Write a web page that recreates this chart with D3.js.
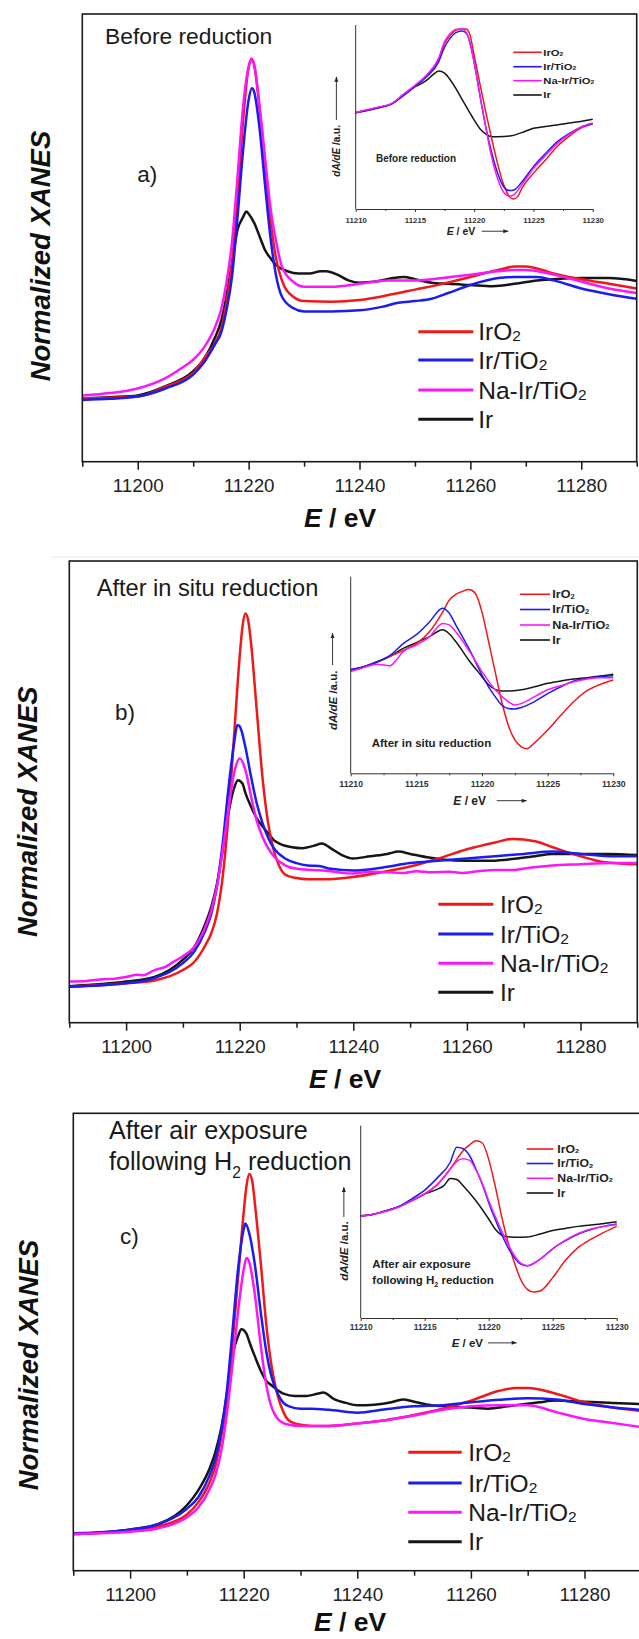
<!DOCTYPE html>
<html>
<head>
<meta charset="utf-8">
<script src="https://cdn.jsdelivr.net/npm/d3@7"></script>
<style>
  html, body { margin: 0; padding: 0; background: #fff; }
  svg { display: block; }
  text { font-family: "Liberation Sans", Arial, Helvetica, sans-serif; }
</style>
</head>
<body>
<svg id="fig" width="639" height="1639"></svg>
<script>
// ---------- shared labels ----------
const legendBase = ["IrO", "Ir/TiO", "Na-Ir/TiO", "Ir"];
const legendSub  = ["2", "2", "2", ""];
const mainTicks  = [11200, 11220, 11240, 11260, 11280];
const mainMinor  = [11190, 11210, 11230, 11250, 11270, 11290];
const insetTicks = [11210, 11215, 11220, 11225, 11230];
const insetMinor = [11212.5, 11217.5, 11222.5, 11227.5];

// ---------- a) before reduction : normalized XANES [E (eV), mu] ----------
const aIrO2 = [[11190,0.015],[11195,0.02],[11200,0.03],[11205,0.116],[11210,0.235],[11212,0.365],[11214,0.5],[11215,0.61],[11216,0.84],[11217,1.19],[11218,1.77],[11219,2.43],[11220,2.89],[11220.6,2.96],[11221,2.91],[11222,2.52],[11223,2.03],[11224,1.54],[11225,1.22],[11226,1.04],[11228,0.9],[11230,0.86],[11235,0.855],[11240,0.87],[11245,0.91],[11250,0.96],[11255,1.01],[11260,1.07],[11265,1.13],[11268,1.16],[11270,1.16],[11273,1.13],[11275,1.1],[11280,1.05],[11285,1.01],[11290,0.97]];
const aIrTiO2 = [[11190,0],[11195,0.01],[11200,0.03],[11205,0.1],[11210,0.22],[11212,0.33],[11214,0.49],[11215,0.58],[11216,0.78],[11217,1.07],[11218,1.59],[11219,2.17],[11220,2.61],[11220.6,2.71],[11221,2.68],[11222,2.35],[11223,1.85],[11224,1.39],[11225,1.07],[11226,0.9],[11228,0.8],[11230,0.77],[11235,0.77],[11240,0.78],[11244,0.81],[11247,0.845],[11250,0.86],[11253,0.88],[11256,0.93],[11260,1.0],[11265,1.06],[11268,1.07],[11272,1.07],[11275,1.04],[11280,0.97],[11285,0.92],[11290,0.88]];
const aNaIrTiO2 = [[11190,0.04],[11195,0.06],[11200,0.1],[11205,0.19],[11208,0.28],[11210,0.35],[11212,0.46],[11214,0.64],[11215,0.78],[11216,1.02],[11217,1.37],[11218,1.94],[11219,2.55],[11220,2.9],[11220.5,2.97],[11221,2.92],[11222,2.55],[11223,2.09],[11224,1.65],[11225,1.37],[11226,1.16],[11228,1.03],[11230,0.985],[11235,0.985],[11240,1.01],[11245,1.04],[11250,1.04],[11255,1.06],[11260,1.09],[11265,1.12],[11268,1.13],[11270,1.13],[11275,1.09],[11280,1.03],[11285,0.97],[11290,0.93]];
const aIr = [[11190,0.015],[11195,0.025],[11200,0.04],[11205,0.12],[11210,0.25],[11212,0.36],[11214,0.55],[11215,0.68],[11216,0.9],[11217,1.19],[11218,1.48],[11219,1.59],[11219.6,1.64],[11220,1.62],[11221,1.54],[11222,1.42],[11223,1.3],[11224,1.23],[11225,1.17],[11227,1.12],[11229,1.1],[11231,1.1],[11233,1.12],[11234,1.12],[11236,1.09],[11238,1.04],[11240,1.02],[11243,1.03],[11246,1.06],[11248,1.07],[11250,1.05],[11253,1.02],[11256,1.01],[11260,1.0],[11264,0.99],[11268,1.01],[11272,1.04],[11275,1.05],[11280,1.06],[11285,1.06],[11290,1.035]];

// a) derivative spectra [E (eV), dA/dE]
const daIrO2 = [[11210,0.047],[11211,0.076],[11212,0.105],[11213,0.141],[11214,0.239],[11215,0.337],[11216,0.446],[11217,0.62],[11217.5,0.8],[11218,0.89],[11218.5,0.946],[11219,0.957],[11219.3,0.957],[11219.6,0.91],[11220,0.67],[11220.5,0.35],[11221,0.04],[11221.5,-0.25],[11222,-0.52],[11222.5,-0.74],[11223,-0.87],[11223.3,-0.89],[11223.7,-0.86],[11224,-0.78],[11225,-0.61],[11226,-0.47],[11227,-0.32],[11228,-0.21],[11229,-0.12],[11230,-0.076]];
const daIrTiO2 = [[11210,0.047],[11211,0.07],[11212,0.1],[11213,0.14],[11214,0.23],[11215,0.33],[11216,0.44],[11217,0.6],[11217.5,0.76],[11218,0.86],[11218.5,0.92],[11219,0.935],[11219.4,0.9],[11219.8,0.72],[11220.2,0.45],[11220.6,0.15],[11221,-0.12],[11221.5,-0.4],[11222,-0.62],[11222.5,-0.76],[11223,-0.8],[11223.4,-0.79],[11224,-0.71],[11225,-0.54],[11226,-0.4],[11227,-0.27],[11228,-0.18],[11229,-0.11],[11230,-0.07]];
const daNaIrTiO2 = [[11210,0.05],[11211,0.08],[11212,0.11],[11213,0.145],[11214,0.245],[11215,0.345],[11216,0.46],[11217,0.64],[11217.5,0.82],[11218,0.91],[11218.5,0.955],[11219,0.957],[11219.4,0.9],[11219.8,0.72],[11220.2,0.45],[11220.6,0.15],[11221,-0.13],[11221.5,-0.45],[11222,-0.68],[11222.5,-0.82],[11223,-0.86],[11223.4,-0.84],[11224,-0.74],[11225,-0.56],[11226,-0.42],[11227,-0.29],[11228,-0.19],[11229,-0.11],[11230,-0.065]];
const daIr = [[11210,0.047],[11211,0.075],[11212,0.105],[11213,0.14],[11214,0.235],[11215,0.33],[11215.5,0.36],[11216,0.4],[11216.5,0.457],[11217,0.5],[11217.5,0.478],[11218,0.4],[11218.5,0.3],[11219,0.185],[11219.5,0.076],[11220,-0.033],[11220.5,-0.13],[11221,-0.185],[11221.5,-0.214],[11222,-0.214],[11223,-0.207],[11224,-0.17],[11225,-0.123],[11226,-0.103],[11227,-0.087],[11228,-0.065],[11229,-0.049],[11230,-0.025]];

// ---------- b) after in situ reduction ----------
const bIrO2 = [[11190,-0.015],[11200,0.015],[11205,0.04],[11210,0.13],[11212,0.2],[11214,0.35],[11215,0.45],[11216,0.62],[11217,0.94],[11218,1.46],[11219,2.16],[11220,2.86],[11220.5,3.12],[11221,3.23],[11221.5,3.17],[11222,2.97],[11223,2.39],[11224,1.81],[11225,1.41],[11226,1.17],[11227,1.03],[11228,0.96],[11230,0.93],[11232,0.92],[11235,0.92],[11240,0.94],[11245,0.98],[11250,1.03],[11255,1.1],[11260,1.18],[11265,1.24],[11268,1.27],[11272,1.25],[11275,1.2],[11280,1.12],[11284,1.07],[11290,1.05]];
const bIrTiO2 = [[11190,-0.015],[11200,0.015],[11205,0.06],[11210,0.19],[11212,0.29],[11214,0.48],[11215,0.62],[11216,0.86],[11217,1.23],[11218,1.7],[11219,2.1],[11219.6,2.26],[11220,2.25],[11221,2.07],[11222,1.81],[11223,1.58],[11224,1.41],[11225,1.28],[11226,1.19],[11228,1.1],[11230,1.06],[11232,1.04],[11234,1.035],[11236,1.01],[11240,0.995],[11245,1.02],[11250,1.06],[11255,1.08],[11260,1.1],[11265,1.12],[11270,1.14],[11275,1.16],[11280,1.14],[11285,1.12],[11290,1.12]];
const bNaIrTiO2 = [[11190,0.03],[11193,0.035],[11196,0.05],[11198,0.055],[11200,0.07],[11202,0.09],[11203,0.085],[11205,0.13],[11207,0.16],[11208,0.19],[11210,0.25],[11212,0.33],[11214,0.51],[11215,0.65],[11216,0.86],[11217,1.17],[11218,1.52],[11219,1.84],[11220,1.97],[11221,1.87],[11222,1.64],[11223,1.43],[11224,1.29],[11225,1.19],[11226,1.12],[11228,1.04],[11230,1.01],[11233,1.0],[11236,0.99],[11238,0.975],[11240,0.97],[11243,0.985],[11246,0.98],[11249,0.975],[11251,0.99],[11254,0.98],[11257,0.985],[11259,0.975],[11262,0.99],[11265,1.0],[11268,1.0],[11271,1.02],[11275,1.04],[11280,1.05],[11285,1.06],[11290,1.06]];
const bIr = [[11190,-0.01],[11200,0.03],[11205,0.07],[11210,0.22],[11212,0.33],[11214,0.54],[11215,0.68],[11216,0.88],[11217,1.17],[11218,1.49],[11219,1.71],[11219.7,1.78],[11220.5,1.75],[11221,1.67],[11222,1.55],[11223,1.45],[11224,1.38],[11225,1.32],[11226,1.26],[11227,1.23],[11229,1.2],[11231,1.19],[11233,1.21],[11234.5,1.23],[11236,1.19],[11238,1.13],[11240,1.1],[11243,1.12],[11246,1.14],[11248,1.16],[11250,1.14],[11253,1.11],[11256,1.09],[11260,1.08],[11264,1.08],[11267,1.09],[11272,1.12],[11275,1.14],[11280,1.14],[11285,1.14],[11290,1.13]];

const dbIrO2 = [[11210,0.05],[11211,0.085],[11212,0.135],[11213,0.19],[11214,0.25],[11215,0.32],[11216,0.44],[11217,0.64],[11217.5,0.76],[11218,0.82],[11218.5,0.85],[11219,0.87],[11219.5,0.83],[11220,0.64],[11220.5,0.34],[11221,0.034],[11221.5,-0.27],[11222,-0.51],[11222.5,-0.66],[11223,-0.73],[11223.4,-0.75],[11224,-0.69],[11225,-0.56],[11226,-0.41],[11227,-0.27],[11228,-0.16],[11229,-0.095],[11230,-0.05]];
const dbIrTiO2 = [[11210,0.058],[11211,0.085],[11212,0.135],[11213,0.2],[11214,0.32],[11215,0.41],[11216,0.54],[11217,0.68],[11217.5,0.63],[11218,0.51],[11219,0.27],[11220,0.0],[11220.5,-0.12],[11221,-0.22],[11221.5,-0.305],[11222,-0.34],[11222.5,-0.345],[11223,-0.33],[11224,-0.27],[11225,-0.19],[11226,-0.12],[11227,-0.06],[11228,-0.034],[11229,-0.017],[11230,-0.007]];
const dbNaIrTiO2 = [[11210,0.034],[11211,0.075],[11212,0.11],[11213,0.095],[11213.4,0.14],[11214,0.24],[11215,0.305],[11216,0.39],[11217,0.525],[11217.5,0.51],[11218,0.44],[11219,0.25],[11220,0.034],[11221,-0.15],[11222,-0.27],[11222.5,-0.305],[11223,-0.29],[11224,-0.22],[11225,-0.15],[11226,-0.11],[11227,-0.068],[11228,-0.04],[11229,-0.027],[11230,-0.027]];
const dbIr = [[11210,0.05],[11211,0.085],[11212,0.13],[11213,0.19],[11214,0.27],[11215,0.33],[11216,0.39],[11217,0.46],[11217.5,0.42],[11218,0.34],[11219,0.15],[11220,-0.017],[11220.5,-0.1],[11221,-0.146],[11221.5,-0.163],[11222,-0.163],[11223,-0.15],[11224,-0.12],[11225,-0.085],[11226,-0.06],[11227,-0.04],[11228,-0.027],[11229,-0.01],[11230,0.007]];

// ---------- c) after air exposure following H2 reduction ----------
const cIrO2 = [[11190,0],[11200,0.03],[11205,0.067],[11210,0.17],[11212,0.275],[11214,0.45],[11215,0.59],[11216,0.83],[11217,1.14],[11218,1.64],[11219,2.22],[11220,2.8],[11220.5,3.03],[11221,3.13],[11221.5,3.07],[11222,2.86],[11223,2.36],[11224,1.81],[11225,1.43],[11226,1.2],[11227,1.06],[11228,0.985],[11230,0.95],[11232,0.94],[11235,0.94],[11240,0.962],[11245,0.99],[11250,1.035],[11255,1.09],[11260,1.16],[11265,1.245],[11268,1.27],[11270,1.27],[11275,1.22],[11280,1.145],[11285,1.1],[11290,1.07]];
const cIrTiO2 = [[11190,0.006],[11200,0.038],[11205,0.087],[11210,0.22],[11212,0.32],[11214,0.51],[11215,0.65],[11216,0.88],[11217,1.23],[11218,1.75],[11219,2.3],[11220,2.65],[11220.3,2.7],[11221,2.61],[11222,2.33],[11223,1.93],[11224,1.58],[11225,1.35],[11226,1.22],[11227,1.14],[11228,1.11],[11230,1.09],[11232,1.09],[11235,1.08],[11240,1.055],[11245,1.085],[11250,1.11],[11255,1.12],[11260,1.145],[11265,1.167],[11270,1.18],[11275,1.17],[11280,1.13],[11285,1.1],[11290,1.08]];
const cNaIrTiO2 = [[11190,0],[11200,0.02],[11205,0.05],[11210,0.145],[11212,0.23],[11214,0.39],[11215,0.51],[11216,0.71],[11217,1.03],[11218,1.46],[11219,1.93],[11220,2.3],[11220.5,2.4],[11221,2.36],[11222,2.07],[11223,1.64],[11224,1.29],[11225,1.09],[11226,1.0],[11227,0.965],[11228,0.95],[11230,0.94],[11235,0.94],[11240,0.96],[11245,0.99],[11250,1.03],[11255,1.08],[11260,1.11],[11265,1.12],[11270,1.12],[11275,1.06],[11280,1.0],[11285,0.965],[11290,0.93]];
const cIr = [[11190,0],[11200,0.04],[11205,0.087],[11210,0.25],[11212,0.38],[11214,0.57],[11215,0.71],[11216,0.91],[11217,1.2],[11218,1.55],[11219,1.72],[11219.6,1.78],[11220.5,1.74],[11221,1.67],[11222,1.54],[11223,1.42],[11224,1.33],[11225,1.29],[11226,1.25],[11227,1.22],[11229,1.2],[11231,1.2],[11233,1.22],[11234,1.23],[11236,1.17],[11238,1.14],[11240,1.12],[11243,1.125],[11246,1.145],[11248,1.17],[11250,1.15],[11253,1.12],[11256,1.11],[11260,1.1],[11263,1.09],[11266.5,1.11],[11272,1.145],[11275,1.16],[11280,1.15],[11285,1.14],[11290,1.13]];

const dcIrO2 = [[11210,0.064],[11211,0.08],[11212,0.116],[11213,0.16],[11214,0.22],[11215,0.29],[11216,0.39],[11217,0.55],[11217.5,0.65],[11218,0.74],[11218.5,0.8],[11219,0.844],[11219.5,0.82],[11220,0.65],[11220.5,0.376],[11221,0.064],[11221.5,-0.21],[11222,-0.42],[11222.5,-0.6],[11223,-0.7],[11223.5,-0.73],[11224,-0.72],[11225,-0.58],[11226,-0.4],[11227,-0.265],[11228,-0.18],[11229,-0.11],[11230,-0.047]];
const dcIrTiO2 = [[11210,0.057],[11211,0.078],[11212,0.116],[11213,0.16],[11214,0.24],[11215,0.33],[11216,0.46],[11217,0.62],[11217.5,0.775],[11218,0.76],[11218.5,0.69],[11219,0.55],[11219.5,0.39],[11220,0.2],[11220.5,0.03],[11221,-0.127],[11221.5,-0.265],[11222,-0.37],[11222.5,-0.44],[11223,-0.456],[11224,-0.39],[11225,-0.28],[11226,-0.196],[11227,-0.127],[11228,-0.08],[11229,-0.047],[11230,-0.023]];
const dcNaIrTiO2 = [[11210,0.06],[11211,0.08],[11212,0.11],[11213,0.155],[11214,0.22],[11215,0.29],[11216,0.39],[11217,0.55],[11217.5,0.63],[11218,0.655],[11218.5,0.64],[11219,0.54],[11219.5,0.4],[11220,0.22],[11220.5,0.06],[11221,-0.09],[11221.5,-0.23],[11222,-0.35],[11222.5,-0.43],[11223,-0.456],[11224,-0.39],[11225,-0.28],[11226,-0.19],[11227,-0.12],[11228,-0.075],[11229,-0.045],[11230,-0.03]];
const dcIr = [[11210,0.064],[11211,0.08],[11212,0.116],[11213,0.16],[11214,0.22],[11215,0.29],[11216,0.34],[11216.5,0.376],[11217,0.45],[11217.5,0.44],[11218,0.376],[11219,0.22],[11220,0.03],[11220.5,-0.075],[11221,-0.137],[11221.5,-0.155],[11222,-0.16],[11223,-0.158],[11224,-0.127],[11225,-0.09],[11226,-0.068],[11227,-0.047],[11228,-0.033],[11229,-0.016],[11230,0.002]];

// ---------- styling ----------
const seriesColors = ["#f01818", "#1c1cf0", "#fa18fa", "#161616"];
const drawOrder = [3, 0, 1, 2];   // Ir underneath, Na-Ir/TiO2 on top
const FONT = '"Liberation Sans", Arial, Helvetica, sans-serif';

// ---------- panel layout ----------
const panels = [
  {
    spectra: [aIrO2, aIrTiO2, aNaIrTiO2, aIr],
    derivs: [daIrO2, daIrTiO2, daNaIrTiO2, daIr],
    box: {x0: 82.3, x1: 636.7, y0: 14, y1: 461.7}, yDomain: [-0.5365, 3.3565],
    title: [[{t: "Before reduction"}]], titleX: 105, titleY: [43.5], titleSize: 22.8,
    letter: "a)", letterX: 137.3, letterY: 181.7,
    yLabel: {x: 50, y: 256}, xLabelX: 304, xLabelY: 527,
    legend: {x0: 418.3, x1: 473.3, tx: 478.3, rows: [331.7, 360, 390, 419.3]},
    inset: {
      x0: 355.7, x1: 592.7, yTop: 25, yBot: 209, tickFont: 7.8, tickPad: 5,
      xl: {x: 446.7, y: 235, size: 10.5, a0: 481.7, a1: 508.3},
      yl: {x: 340, yText: 176.7, a0: 120, a1: 76.7, size: 10},
      note: [[{t: "Before reduction"}]], noteX: 376, noteY: [162], noteSize: 10,
      legend: {x0: 513.3, x1: 541.7, tx: 543.3, rows: [52.3, 66.7, 80.7, 95], size: 9, sx: 1.25}
    }
  },
  {
    spectra: [bIrO2, bIrTiO2, bNaIrTiO2, bIr],
    derivs: [dbIrO2, dbIrTiO2, dbNaIrTiO2, dbIr],
    box: {x0: 69.3, x1: 637.3, y0: 561, y1: 1022.7}, yDomain: [-0.3278, 3.687],
    title: [[{t: "After in situ reduction"}]], titleX: 96.7, titleY: [596], titleSize: 23.6,
    letter: "b)", letterX: 115, letterY: 720,
    yLabel: {x: 36.7, y: 811.7}, xLabelX: 309, xLabelY: 1088.3,
    legend: {x0: 438.3, x1: 493.3, tx: 500, rows: [904.3, 934, 963.3, 992.3]},
    inset: {
      x0: 350.7, x1: 613.3, yTop: 576.7, yBot: 773.3, tickFont: 8.7, tickPad: 5,
      xl: {x: 453.3, y: 805, size: 12, a0: 496.7, a1: 526.7},
      yl: {x: 336.7, yText: 730, a0: 665, a1: 633, size: 11.5},
      note: [[{t: "After in situ reduction"}]], noteX: 371.7, noteY: [746.7], noteSize: 11.5,
      legend: {x0: 520, x1: 550, tx: 552.3, rows: [594.3, 609.5, 625, 640], size: 10.5, sx: 1.2}
    }
  },
  {
    spectra: [cIrO2, cIrTiO2, cNaIrTiO2, cIr],
    derivs: [dcIrO2, dcIrTiO2, dcNaIrTiO2, dcIr],
    box: {x0: 73.3, x1: 641.3, y0: 1113.3, y1: 1570.7}, yDomain: [-0.3191, 3.6583],
    title: [[{t: "After air exposure"}], [{t: "following H"}, {t: "2", sub: true}, {t: " reduction", back: true}]],
    titleX: 109, titleY: [1138.5, 1169.5], titleSize: 25.2,
    letter: "c)", letterX: 120, letterY: 1244,
    yLabel: {x: 38.3, y: 1365}, xLabelX: 314, xLabelY: 1631,
    legend: {x0: 408.3, x1: 461.7, tx: 468.3, rows: [1452.3, 1483, 1512.3, 1541.7]},
    inset: {
      x0: 360.7, x1: 616.7, yTop: 1125.7, yBot: 1318, tickFont: 8.4, tickPad: 3.5,
      xl: {x: 451.7, y: 1347, size: 11.5, a0: 488, a1: 516.7},
      yl: {x: 348, yText: 1280.7, a0: 1217, a1: 1187, size: 11.5},
      note: [[{t: "After air exposure"}], [{t: "following H"}, {t: "2", sub: true}, {t: " reduction", back: true}]],
      noteX: 372.3, noteY: [1268.3, 1284], noteSize: 11.5,
      legend: {x0: 526.7, x1: 553.3, tx: 557.3, rows: [1149, 1163.5, 1178.3, 1193], size: 10.2, sx: 1.2}
    }
  }
];

const svg = d3.select("#fig");
svg.append("rect").attr("width", 639).attr("height", 1639).attr("fill", "#fff");

// faint trim line between the first two panels
svg.append("line").attr("x1", 52).attr("x2", 639).attr("y1", 557).attr("y2", 557)
  .attr("stroke", "#e4e4e4").attr("stroke-width", 1);

// writes a run of text pieces; subscripts are shrunk and lowered
function richText(sel, pieces, size, subShift) {
  pieces.forEach(p => {
    const ts = sel.append("tspan").text(p.t);
    if (p.sub) ts.attr("font-size", size * 0.62).attr("dy", subShift);
    if (p.back) ts.attr("dy", -subShift);
  });
}

panels.forEach((p, pi) => {
  const g = svg.append("g");
  const b = p.box;
  const x = d3.scaleLinear().domain([11190, 11290]).range([b.x0, b.x1]);
  const y = d3.scaleLinear().domain(p.yDomain).range([b.y1, b.y0]);

  const clipId = "clip" + pi;
  svg.append("clipPath").attr("id", clipId)
    .append("rect").attr("x", b.x0).attr("y", b.y0)
    .attr("width", b.x1 - b.x0).attr("height", b.y1 - b.y0);

  // spectra
  const line = d3.line().x(d => x(d[0])).y(d => y(d[1])).curve(d3.curveMonotoneX);
  const curves = g.append("g").attr("clip-path", `url(#${clipId})`);
  drawOrder.forEach(i => {
    curves.append("path").datum(p.spectra[i])
      .attr("d", line).attr("fill", "none")
      .attr("stroke", seriesColors[i]).attr("stroke-width", 2.5)
      .attr("stroke-linejoin", "round");
  });

  // frame
  g.append("rect").attr("x", b.x0).attr("y", b.y0)
    .attr("width", b.x1 - b.x0).attr("height", b.y1 - b.y0)
    .attr("fill", "none").attr("stroke", "#1a1a1a").attr("stroke-width", 1.6);

  // bottom axis: labelled major ticks plus unlabelled minor ticks
  const ax = g.append("g").attr("transform", `translate(0,${b.y1})`)
    .call(d3.axisBottom(x).tickValues(mainTicks).tickFormat(d3.format("d"))
      .tickSize(8).tickSizeOuter(0).tickPadding(9.2));
  ax.select(".domain").remove();
  ax.selectAll("line").attr("stroke", "#1a1a1a").attr("stroke-width", 1.5);
  ax.selectAll("text").attr("font-family", FONT).attr("font-size", 18.8).attr("fill", "#222");
  const axm = g.append("g").attr("transform", `translate(0,${b.y1})`)
    .call(d3.axisBottom(x).tickValues(mainMinor).tickFormat("").tickSize(5).tickSizeOuter(0));
  axm.select(".domain").remove();
  axm.selectAll("line").attr("stroke", "#1a1a1a").attr("stroke-width", 1.5);

  // axis titles
  const xt = g.append("text").attr("x", p.xLabelX).attr("y", p.xLabelY)
    .attr("font-size", 26.5).attr("font-weight", "bold").attr("fill", "#111");
  xt.append("tspan").attr("font-style", "italic").text("E");
  xt.append("tspan").text(" / eV");

  g.append("text")
    .attr("transform", `translate(${p.yLabel.x},${p.yLabel.y}) rotate(-90)`)
    .attr("text-anchor", "middle").attr("font-size", 27.5)
    .attr("font-weight", "bold").attr("font-style", "italic").attr("fill", "#111")
    .text("Normalized XANES");

  // panel title and letter
  p.title.forEach((pieces, li) => {
    const t = g.append("text").attr("x", p.titleX).attr("y", p.titleY[li])
      .attr("font-size", p.titleSize).attr("fill", "#1a1a1a");
    richText(t, pieces, p.titleSize, 8);
  });
  g.append("text").attr("x", p.letterX).attr("y", p.letterY)
    .attr("font-size", 22.5).attr("fill", "#1a1a1a").text(p.letter);

  // main legend
  legendBase.forEach((name, i) => {
    const ry = p.legend.rows[i];
    g.append("line").attr("x1", p.legend.x0).attr("x2", p.legend.x1)
      .attr("y1", ry).attr("y2", ry)
      .attr("stroke", seriesColors[i]).attr("stroke-width", 3);
    const t = g.append("text").attr("x", p.legend.tx).attr("y", ry + 8.6)
      .attr("font-size", 24.5).attr("fill", "#1a1a1a");
    t.append("tspan").text(name);
    if (legendSub[i]) t.append("tspan").attr("font-size", 15.5).attr("dy", 1).text(legendSub[i]);
  });

  // ---------- derivative inset ----------
  const s = p.inset;
  const gi = g.append("g");
  const xi = d3.scaleLinear().domain([11210, 11230]).range([s.x0, s.x1]);
  const yi = d3.scaleLinear().domain([-1, 1]).range([s.yBot, s.yTop]);
  const dline = d3.line().x(d => xi(d[0])).y(d => yi(d[1])).curve(d3.curveMonotoneX);

  drawOrder.forEach(i => {
    gi.append("path").datum(p.derivs[i])
      .attr("d", dline).attr("fill", "none")
      .attr("stroke", seriesColors[i]).attr("stroke-width", 1.5)
      .attr("stroke-linejoin", "round");
  });

  // inset axes (left and bottom only)
  gi.append("line").attr("x1", s.x0).attr("x2", s.x0).attr("y1", s.yBot).attr("y2", s.yTop)
    .attr("stroke", "#333").attr("stroke-width", 1);
  const iax = gi.append("g").attr("transform", `translate(0,${s.yBot})`)
    .call(d3.axisBottom(xi).tickValues(insetTicks).tickFormat(d3.format("d"))
      .tickSize(3).tickSizeOuter(0).tickPadding(s.tickPad));
  iax.select(".domain").attr("stroke", "#333").attr("stroke-width", 1);
  iax.selectAll("line").attr("stroke", "#333");
  iax.selectAll("text").attr("font-family", FONT).attr("font-size", s.tickFont)
    .attr("font-weight", "bold").attr("fill", "#333");
  const iaxm = gi.append("g").attr("transform", `translate(0,${s.yBot})`)
    .call(d3.axisBottom(xi).tickValues(insetMinor).tickFormat("").tickSize(2).tickSizeOuter(0));
  iaxm.select(".domain").remove();
  iaxm.selectAll("line").attr("stroke", "#333");

  // inset x title with arrow
  const ixt = gi.append("text").attr("x", s.xl.x).attr("y", s.xl.y)
    .attr("font-size", s.xl.size).attr("font-weight", "bold").attr("fill", "#222");
  ixt.append("tspan").attr("font-style", "italic").text("E");
  ixt.append("tspan").text(" / eV");
  const ay = s.xl.y - s.xl.size * 0.36;
  gi.append("line").attr("x1", s.xl.a0).attr("x2", s.xl.a1).attr("y1", ay).attr("y2", ay)
    .attr("stroke", "#222").attr("stroke-width", 0.9);
  gi.append("path")
    .attr("d", `M${s.xl.a1 - 5},${ay - 2}L${s.xl.a1},${ay}L${s.xl.a1 - 5},${ay + 2}Z`)
    .attr("fill", "#222");

  // inset y title with arrow
  const iyt = gi.append("text")
    .attr("transform", `translate(${s.yl.x},${s.yl.yText}) rotate(-90)`)
    .attr("font-size", s.yl.size).attr("font-weight", "bold").attr("fill", "#222");
  iyt.append("tspan").attr("font-style", "italic").text("dA/dE");
  iyt.append("tspan").text(" /a.u.");
  const axx = s.yl.x - s.yl.size * 0.36;
  gi.append("line").attr("x1", axx).attr("x2", axx).attr("y1", s.yl.a0).attr("y2", s.yl.a1)
    .attr("stroke", "#222").attr("stroke-width", 0.9);
  gi.append("path")
    .attr("d", `M${axx - 2},${s.yl.a1 + 5}L${axx},${s.yl.a1}L${axx + 2},${s.yl.a1 + 5}Z`)
    .attr("fill", "#222");

  // inset condition note
  s.note.forEach((pieces, li) => {
    const t = gi.append("text").attr("x", s.noteX).attr("y", s.noteY[li])
      .attr("font-size", s.noteSize).attr("font-weight", "bold").attr("fill", "#222");
    richText(t, pieces, s.noteSize, 3);
  });

  // inset legend (lettering is set slightly wide)
  legendBase.forEach((name, i) => {
    const ry = s.legend.rows[i];
    gi.append("line").attr("x1", s.legend.x0).attr("x2", s.legend.x1)
      .attr("y1", ry).attr("y2", ry)
      .attr("stroke", seriesColors[i]).attr("stroke-width", 1.6);
    const t = gi.append("text")
      .attr("transform", `translate(${s.legend.tx},${ry + s.legend.size * 0.36}) scale(${s.legend.sx},1)`)
      .attr("font-size", s.legend.size).attr("font-weight", "bold").attr("fill", "#222");
    t.append("tspan").text(name);
    if (legendSub[i]) t.append("tspan").attr("font-size", s.legend.size * 0.6).attr("dy", 0.5).text(legendSub[i]);
  });
});
</script>
</body>
</html>
